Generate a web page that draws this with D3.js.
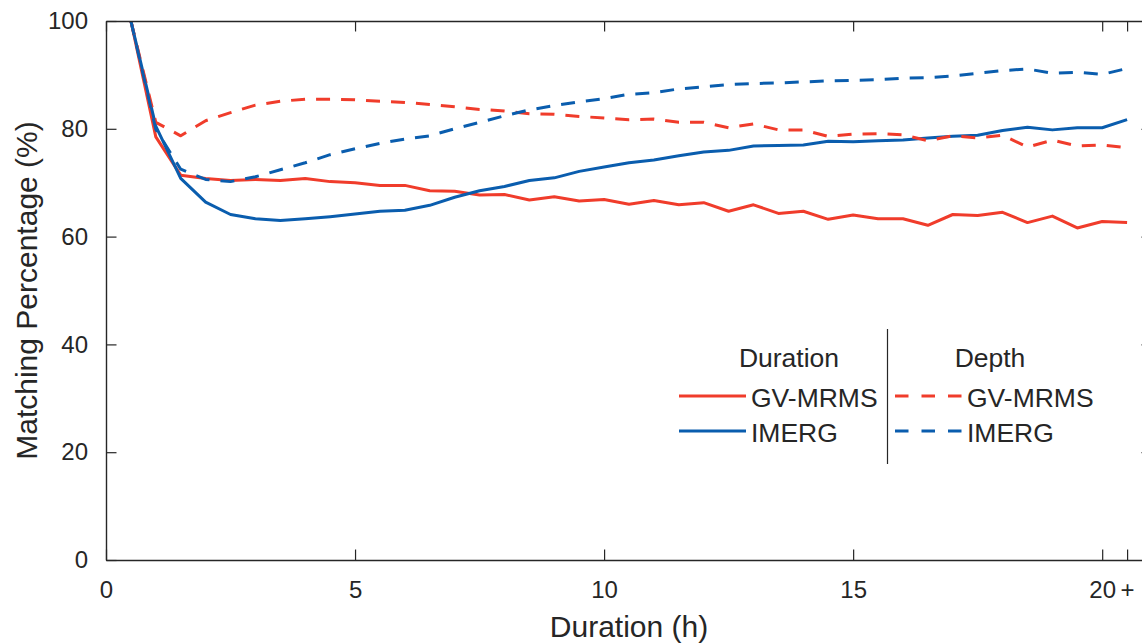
<!DOCTYPE html>
<html>
<head>
<meta charset="utf-8">
<script src="https://cdn.jsdelivr.net/npm/d3@7"></script>
<style>
    html, body { margin: 0; padding: 0; background: #fff; }
    #viz { width: 1142px; height: 644px; }
    text { font-family: "Liberation Sans", Arial, Helvetica, sans-serif; fill: #262626; }
</style>
</head>
<body>
<div id="viz"></div>
<script>
// hours since start (last bin = 20+)
const hours = [0.5, 1, 1.5, 2, 2.5, 3, 3.5, 4, 4.5, 5, 5.5, 6, 6.5, 7, 7.5, 8, 8.5, 9, 9.5, 10,
    10.5, 11, 11.5, 12, 12.5, 13, 13.5, 14, 14.5, 15, 15.5, 16, 16.5, 17, 17.5, 18, 18.5, 19, 19.5, 20, 20.5];

// matching percentage, duration based
const gvDuration = [100, 78.5, 71.4, 70.8, 70.4, 70.6, 70.4, 70.8, 70.2, 70.0, 69.5, 69.5, 68.5, 68.4, 67.7, 67.8,
    66.8, 67.4, 66.6, 66.9, 66.0, 66.7, 65.9, 66.3, 64.7, 65.9, 64.3, 64.7, 63.2, 64.0, 63.3, 63.3, 62.1, 64.1,
    63.9, 64.5, 62.6, 63.8, 61.6, 62.8, 62.6];
const imDuration = [100, 80.5, 70.8, 66.4, 64.1, 63.3, 63.0, 63.3, 63.7, 64.2, 64.7, 64.9, 65.8, 67.3, 68.5, 69.3,
    70.4, 70.9, 72.1, 72.9, 73.7, 74.2, 75.0, 75.7, 76.0, 76.8, 76.9, 77.0, 77.7, 77.6, 77.8, 77.9, 78.3, 78.6,
    78.8, 79.7, 80.3, 79.8, 80.2, 80.2, 81.7];
// matching percentage, depth based
const gvDepth = [100, 81.2, 78.7, 81.5, 83.0, 84.4, 85.1, 85.5, 85.5, 85.4, 85.1, 84.9, 84.5, 84.1, 83.6, 83.3,
    82.8, 82.7, 82.3, 82.0, 81.7, 81.8, 81.2, 81.2, 80.2, 80.9, 79.8, 79.8, 78.6, 79.0, 79.1, 78.9, 77.8, 78.7,
    78.3, 78.8, 76.6, 77.9, 76.8, 77.0, 76.5];
const imDepth = [100, 79.9, 72.5, 70.6, 70.2, 71.1, 72.4, 73.7, 75.2, 76.3, 77.3, 78.1, 78.7, 80.0, 81.2, 82.4,
    83.5, 84.3, 85.0, 85.6, 86.4, 86.7, 87.4, 87.8, 88.2, 88.4, 88.5, 88.7, 88.9, 89.0, 89.1, 89.4, 89.5, 89.8,
    90.3, 90.8, 91.1, 90.3, 90.5, 90.1, 91.2];

const xTicks = [0, 5, 10, 15, 20, 20.5];
const xTickLabels = ['0', '5', '10', '15', '20', '+'];
const yTicks = [0, 20, 40, 60, 80, 100];

const red = '#f03c2b';
const blue = '#0a5dae';

const series = [
    { name: 'GV-MRMS', values: gvDuration, color: red, dash: null },
    { name: 'IMERG', values: imDuration, color: blue, dash: null },
    { name: 'GV-MRMS', values: gvDepth, color: red, dash: '14,11' },
    { name: 'IMERG', values: imDepth, color: blue, dash: '14,11' },
];

const svg = d3.select('#viz')
    .append('svg')
    .attr('width', 1142)
    .attr('height', 644);

const plotLeft = 106, plotRight = 1152, plotTop = 21, plotBottom = 560;

const xScale = d3.scaleLinear().domain([0, 21]).range([plotLeft, plotRight]);
const yScale = d3.scaleLinear().domain([0, 100]).range([plotBottom, plotTop]);

svg.append('clipPath').attr('id', 'plot-clip')
    .append('rect')
    .attr('x', plotLeft).attr('y', plotTop)
    .attr('width', plotRight - plotLeft).attr('height', plotBottom - plotTop);

// lines
const line = d3.line()
    .x((d, i) => xScale(hours[i]))
    .y((d) => yScale(d));

svg.append('g')
    .attr('clip-path', 'url(#plot-clip)')
    .selectAll('path')
    .data(series)
    .join('path')
    .attr('d', (d) => line(d.values))
    .attr('fill', 'none')
    .attr('stroke', (d) => d.color)
    .attr('stroke-width', 3)
    .attr('stroke-linejoin', 'round')
    .attr('stroke-dasharray', (d) => d.dash);

// axes (box with inward ticks)
const tickLen = 10.5;
const styleAxis = (g) => {
    g.selectAll('.domain').attr('stroke', '#262626').attr('stroke-width', 1.4);
    g.selectAll('.tick line').attr('stroke', '#262626').attr('stroke-width', 1.2);
    g.selectAll('text').attr('fill', '#262626').attr('font-size', 24)
        .attr('font-family', '"Liberation Sans", Arial, Helvetica, sans-serif');
};

svg.append('g')
    .attr('transform', `translate(0,${plotBottom})`)
    .call(d3.axisBottom(xScale).tickValues(xTicks)
        .tickFormat((d, i) => xTickLabels[i])
        .tickSizeInner(-tickLen).tickSizeOuter(0).tickPadding(21))
    .call(styleAxis);

svg.append('g')
    .attr('transform', `translate(0,${plotTop})`)
    .call(d3.axisTop(xScale).tickValues(xTicks).tickFormat('')
        .tickSizeInner(-tickLen).tickSizeOuter(0))
    .call(styleAxis);

svg.append('g')
    .attr('transform', `translate(${plotLeft},0)`)
    .call(d3.axisLeft(yScale).tickValues(yTicks)
        .tickSizeInner(-tickLen).tickSizeOuter(0).tickPadding(18))
    .call(styleAxis);

svg.append('g')
    .attr('transform', `translate(${plotRight},0)`)
    .call(d3.axisRight(yScale).tickValues(yTicks).tickFormat('')
        .tickSizeInner(-tickLen).tickSizeOuter(0))
    .call(styleAxis);

// axis labels
svg.append('text')
    .attr('x', 629)
    .attr('y', 637)
    .attr('text-anchor', 'middle')
    .attr('font-size', 30)
    .text('Duration (h)');

svg.append('text')
    .attr('transform', `translate(37,${(plotTop + plotBottom) / 2}) rotate(-90)`)
    .attr('text-anchor', 'middle')
    .attr('font-size', 30)
    .text('Matching Percentage (%)');

// legend
const legend = svg.append('g').attr('id', 'legend');
const legendFont = 26.5;

legend.append('line')
    .attr('x1', 887.5).attr('x2', 887.5)
    .attr('y1', 329).attr('y2', 464)
    .attr('stroke', '#262626')
    .attr('stroke-width', 1.2);

legend.selectAll('text.head')
    .data([{ label: 'Duration', x: 789 }, { label: 'Depth', x: 990 }])
    .join('text')
    .attr('class', 'head')
    .attr('x', (d) => d.x)
    .attr('y', 367)
    .attr('text-anchor', 'middle')
    .attr('font-size', legendFont)
    .text((d) => d.label);

const entries = legend.selectAll('g.entry')
    .data(series)
    .join('g')
    .attr('class', 'entry')
    .attr('transform', (d, i) => {
        const col = i < 2 ? 0 : 1;
        const row = i % 2;
        return `translate(${col === 0 ? 679 : 895},${396 + row * 35})`;
    });

entries.append('line')
    .attr('x1', 0).attr('x2', 67)
    .attr('y1', 0).attr('y2', 0)
    .attr('stroke', (d) => d.color)
    .attr('stroke-width', 3)
    .attr('stroke-dasharray', (d) => (d.dash ? '13.5,13' : null));

entries.append('text')
    .attr('x', 72)
    .attr('y', 10.5)
    .attr('font-size', legendFont)
    .text((d) => d.name);
</script>
</body>
</html>
